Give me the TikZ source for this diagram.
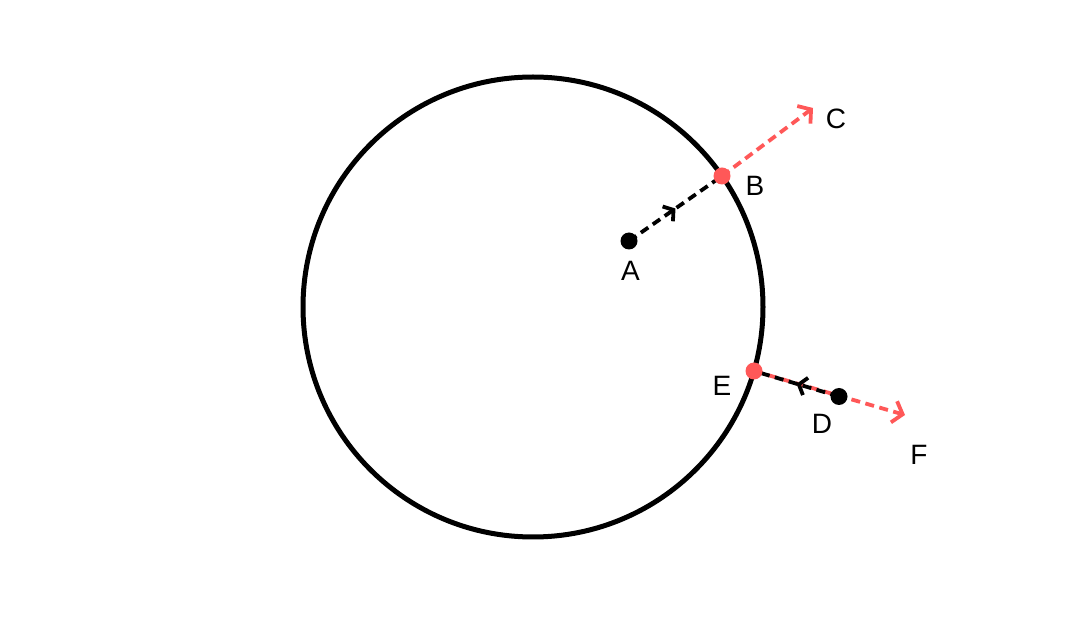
\documentclass[tikz,border=0pt]{standalone}
\usepackage{fontspec}
\setmainfont{Liberation Sans}
\usetikzlibrary{arrows.meta,decorations.markings}
\definecolor{redc}{RGB}{255,88,88}
\tikzset{
  pt/.style={circle,fill=black,inner sep=0pt,minimum size=17pt},
  rpt/.style={circle,fill=redc,inner sep=0pt,minimum size=17pt},
  lbl/.style={font=\fontsize{28}{30}\selectfont,inner sep=0pt},
  ray/.style={line width=3.8pt,dash pattern=on 9pt off 5.5pt},
  midarrow/.style={postaction={decorate},decoration={markings,mark=at position 0.5 with {\arrow[solid,line width=3.8pt]{Straight Barb[length=7pt,width=18pt]}}}},
  redarrow/.style={-{Straight Barb[length=9pt,width=22pt,line width=3.8pt]}},
}
\begin{document}
\begin{tikzpicture}[x=1pt,y=-1pt]
\useasboundingbox (0,0) rectangle (1080,617);
\draw[line width=5pt] (533,307) circle (230);
\coordinate (A) at (629,241);
\coordinate (B) at (722,176);
\coordinate (C) at (813,108);
\coordinate (D) at (839,396.5);
\coordinate (E) at (754,371);
\coordinate (F) at (905,415);
\draw[ray,redc,redarrow] (B) -- (C);
\draw[ray,redc,redarrow] (E) -- (F);
\draw[ray,black,midarrow] (A) -- (B);
\draw[ray,black,midarrow] (D) -- (E);
\node[pt] (nA) at (A) {};
\node[pt] (nD) at (D) {};
\node[rpt] (nB) at (B) {};
\node[rpt] (nE) at (E) {};
\node[lbl] (lA) at (630.5,271) {A};
\node[lbl] (lB) at (755,186) {B};
\node[lbl] (lC) at (836,119) {C};
\node[lbl] (lD) at (822,424) {D};
\node[lbl] (lE) at (722,386) {E};
\node[lbl] (lF) at (919,455) {F};
\end{tikzpicture}
\end{document}
